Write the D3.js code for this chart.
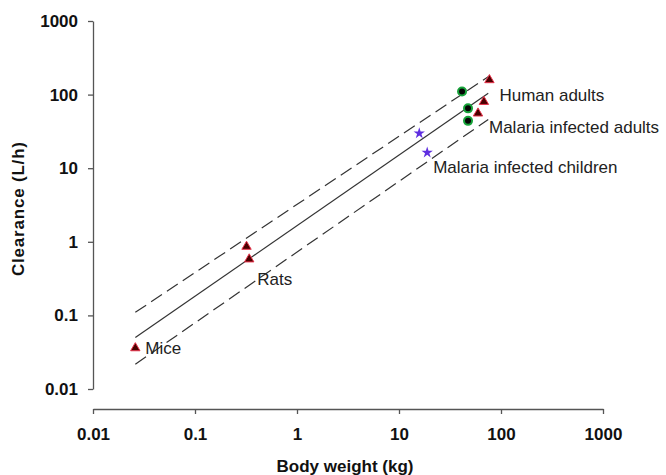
<!DOCTYPE html>
<html>
<head>
<meta charset="utf-8">
<script src="https://cdn.jsdelivr.net/npm/d3@7"></script>
<style>
  body { margin: 0; background: #fff; }
  text { font-family: "Liberation Sans", Arial, sans-serif; }
</style>
</head>
<body>
<script>
    // body weight (kg) vs clearance (L/h)
    var mice = [[0.026, 0.036]];
    var rats = [[0.32, 0.86], [0.34, 0.58]];
    var humanAdults = [[77, 158], [68, 80], [59.5, 55.7]];
    var malariaAdults = [[41.5, 110], [47.5, 65], [47.5, 44]];
    var malariaChildren = [[15.8, 29.8], [18.9, 16.3]];

    // fitted line and its bounds, as end points [x, y]
    var fitLine = [[0.026, 0.05], [75, 104]];
    var upperLine = [[0.026, 0.11], [75, 175]];
    var lowerLine = [[0.026, 0.0217], [75, 46]];

    var xTicks = [0.01, 0.1, 1, 10, 100, 1000];
    var yTicks = [0.01, 0.1, 1, 10, 100, 1000];
    var xTickLabels = ["0.01", "0.1", "1", "10", "100", "1000"];
    var yTickLabels = ["0.01", "0.1", "1", "10", "100", "1000"];

    var labels = [
        {text: "Mice", x: 0.026, y: 0.036, dx: 10},
        {text: "Rats", x: 0.34, y: 0.58, dx: 8, dy: 20},
        {text: "Human adults", x: 77, y: 158, dx: 10, dy: 15},
        {text: "Malaria infected adults", x: 59.5, y: 55.7, dx: 11, dy: 14},
        {text: "Malaria infected children", x: 18.9, y: 16.3, dx: 6, dy: 14}
    ];

    var w = 666, h = 475;

    var svg = d3.select("body")
            .append("svg")
            .attr("width", w)
            .attr("height", h);

    var x = d3.scaleLog().domain([0.01, 1000]).range([93, 603]);
    var y = d3.scaleLog().domain([0.01, 1000]).range([389, 21]);

    var axisColor = "#555";

    // x axis
    var xAxis = svg.append("g")
            .attr("transform", "translate(0,409)")
            .call(d3.axisBottom(x).tickValues(xTicks)
                .tickFormat(function (d, i) { return xTickLabels[i]; })
                .tickSizeOuter(0).tickSizeInner(5).tickPadding(14));
    xAxis.select(".domain").attr("stroke", axisColor).attr("stroke-width", 1.3);
    xAxis.selectAll(".tick line").attr("stroke", axisColor).attr("stroke-width", 1.3);
    xAxis.selectAll(".tick text")
            .attr("fill", "#111")
            .style("font-size", "17px")
            .style("font-weight", "bold");

    // y axis
    var yAxis = svg.append("g")
            .attr("transform", "translate(93,0)")
            .call(d3.axisLeft(y).tickValues(yTicks)
                .tickFormat(function (d, i) { return yTickLabels[i]; })
                .tickSizeOuter(0).tickSizeInner(5).tickPadding(10));
    yAxis.select(".domain").attr("stroke", axisColor).attr("stroke-width", 1.3);
    yAxis.selectAll(".tick line").attr("stroke", axisColor).attr("stroke-width", 1.3);
    yAxis.selectAll(".tick text")
            .attr("fill", "#111")
            .style("font-size", "17px")
            .style("font-weight", "bold");

    // axis titles
    svg.append("text")
            .attr("x", 345)
            .attr("y", 472)
            .attr("text-anchor", "middle")
            .attr("fill", "#111")
            .style("font-size", "17px")
            .style("font-weight", "bold")
            .text("Body weight (kg)");

    svg.append("text")
            .attr("transform", "translate(24,209) rotate(-90)")
            .attr("text-anchor", "middle")
            .attr("textLength", 134)
            .attr("lengthAdjust", "spacing")
            .attr("fill", "#111")
            .style("font-size", "17px")
            .style("font-weight", "bold")
            .text("Clearance (L/h)");

    // regression lines
    var line = d3.line()
            .x(function (d) { return x(d[0]); })
            .y(function (d) { return y(d[1]); });

    svg.append("path").datum(fitLine)
            .attr("d", line)
            .attr("fill", "none")
            .attr("stroke", "#333")
            .attr("stroke-width", 1.2);

    svg.selectAll("path.bound")
            .data([upperLine, lowerLine])
            .enter().append("path")
            .attr("class", "bound")
            .attr("d", line)
            .attr("fill", "none")
            .attr("stroke", "#333")
            .attr("stroke-width", 1.2)
            .attr("stroke-dasharray", "13,6");

    // points
    var tri = d3.symbol().type(d3.symbolTriangle).size(38);
    var star = d3.symbol().type(d3.symbolStar).size(40);

    svg.selectAll("path.tri")
            .data(mice.concat(rats, humanAdults))
            .enter().append("path")
            .attr("class", "tri")
            .attr("d", tri)
            .attr("transform", function (d) { return "translate(" + x(d[0]) + "," + y(d[1]) + ")"; })
            .attr("fill", "#4a0000")
            .attr("stroke", "#e8324a")
            .attr("stroke-width", 1);

    svg.selectAll("circle.adult")
            .data(malariaAdults)
            .enter().append("circle")
            .attr("class", "adult")
            .attr("cx", function (d) { return x(d[0]); })
            .attr("cy", function (d) { return y(d[1]); })
            .attr("r", 4)
            .attr("fill", "#050505")
            .attr("stroke", "#17a33a")
            .attr("stroke-width", 2);

    svg.selectAll("path.star")
            .data(malariaChildren)
            .enter().append("path")
            .attr("class", "star")
            .attr("d", star)
            .attr("transform", function (d) { return "translate(" + x(d[0]) + "," + y(d[1]) + ")"; })
            .attr("fill", "#5f2fe0");

    // group labels
    svg.selectAll("text.lbl")
            .data(labels)
            .enter().append("text")
            .attr("class", "lbl")
            .attr("x", function (d) { return x(d.x) + d.dx; })
            .attr("y", function (d) { return y(d.y) + (d.dy || 0); })
            .attr("dy", "0.35em")
            .attr("fill", "#222")
            .style("font-size", "17px")
            .text(function (d) { return d.text; });
</script>
</body>
</html>
